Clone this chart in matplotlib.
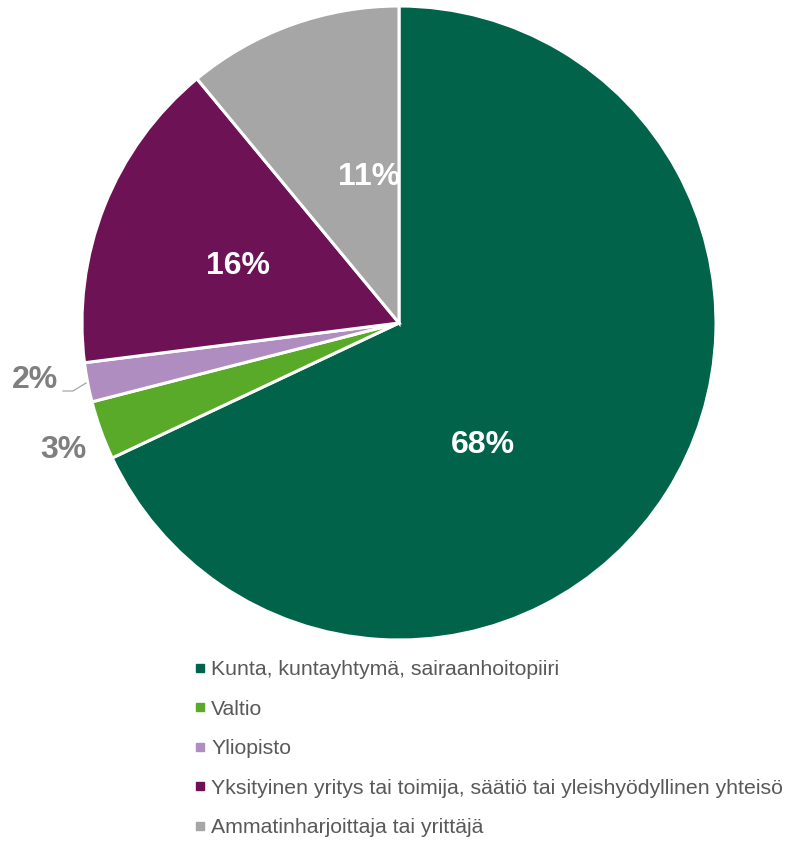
import matplotlib.pyplot as plt
from matplotlib.lines import Line2D

plt.rcParams['font.family'] = ['Liberation Sans', 'DejaVu Sans']

categories = [
    "Kunta, kuntayhtymä, sairaanhoitopiiri",
    "Valtio",
    "Yliopisto",
    "Yksityinen yritys tai toimija, säätiö tai yleishyödyllinen yhteisö",
    "Ammatinharjoittaja tai yrittäjä",
]
shares = [68, 3, 2, 16, 11]
pct_labels = ["68%", "3%", "2%", "16%", "11%"]
colors = ["#00634a", "#5aaa2a", "#b08dc0", "#6e1256", "#a6a6a6"]

fig = plt.figure(figsize=(7.88, 8.42), dpi=100)
# pie centre ~ (399, 323) px, radius ~317 px
ax = fig.add_axes([(399 - 317) / 788, (842 - 323 - 317) / 842, 634 / 788, 634 / 842])
wedges, _ = ax.pie(shares, colors=colors, startangle=90, counterclock=False,
                   radius=1, wedgeprops=dict(edgecolor="white", linewidth=2.2))
ax.set_xlim(-1, 1)
ax.set_ylim(-1, 1)
ax.set_aspect("equal")
ax.axis("off")

# label positions (data coords)
label_pos = [(0.265, -0.385), (-1.060, -0.401), (-1.148, -0.180), (-0.508, 0.180), (-0.095, 0.461)]
inside = [True, False, False, True, True]
for i, (txt, (x, y)) in enumerate(zip(pct_labels, label_pos)):
    t = ax.text(x, y, txt, ha="center", va="center", fontsize=23, fontweight="bold",
                color="white" if inside[i] else "#7f7f7f", clip_on=False)
    if i == 4:
        # 11% label is partly hidden behind the neighbouring slice
        t.set_clip_path(wedges[4])

# leader line for 2%
ax.plot([(63 - 399) / 317, (73 - 399) / 317, (86 - 399) / 317],
        [(323 - 391) / 317, (323 - 391) / 317, (323 - 383) / 317],
        color="#a6a6a6", lw=0.9, clip_on=False)

handles = [Line2D([0], [0], marker="s", linestyle="none", markersize=5.2,
                  markerfacecolor=c, markeredgecolor=c) for c in colors]
fig.legend(handles, categories, loc="upper left", bbox_to_anchor=(196 / 788, 1 - 660 / 842),
           frameon=False, fontsize=15.3, labelcolor="#595959", handlelength=0.4,
           handletextpad=0.32, labelspacing=0.97, borderaxespad=0, borderpad=0)

fig.savefig("out.png", dpi=100)
